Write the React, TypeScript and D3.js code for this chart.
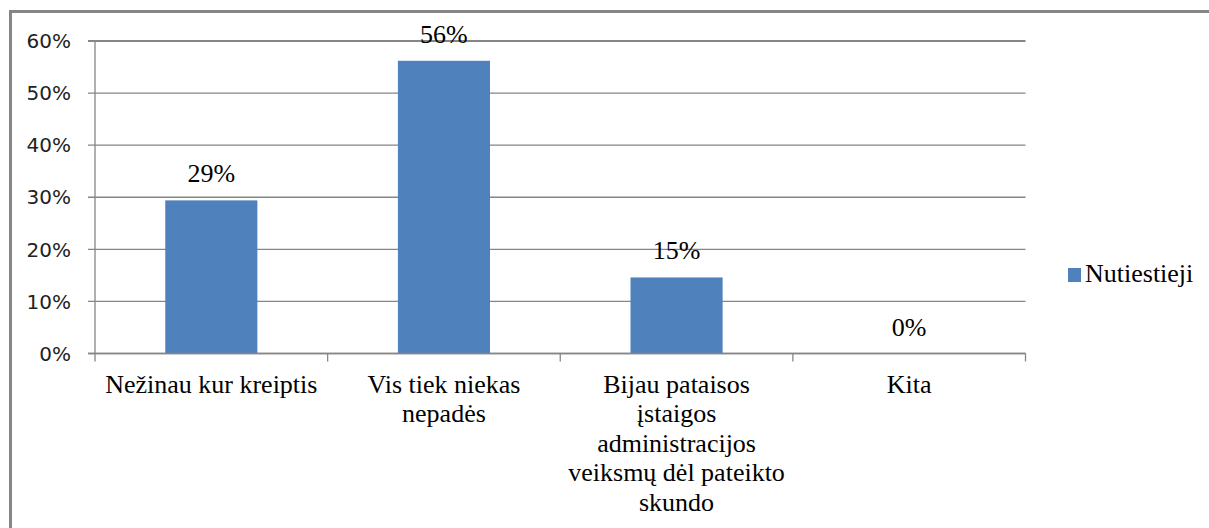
import * as d3 from "d3";

// categories (label lines) and values
const categories = ["Nežinau kur kreiptis", "Vis tiek niekas nepadės", "Bijau pataisos įstaigos administracijos veiksmų dėl pateikto skundo", "Kita"];
const categoryLines = [
  ["Nežinau kur kreiptis"],
  ["Vis tiek niekas", "nepadės"],
  ["Bijau pataisos", "įstaigos", "administracijos", "veiksmų dėl pateikto", "skundo"],
  ["Kita"],
];
const values = [29.4, 56.2, 14.6, 0];
const valueLabels = ["29%", "56%", "15%", "0%"];
const yTicks = [0, 10, 20, 30, 40, 50, 60];
const seriesName = "Nutiestieji";

const W = 1209;
const H = 528;
const grey = "#868686";
const barColor = "#4f81bd";
const serif = "Liberation Serif";
const sans = "DejaVu Sans";

const App = () => {
  const left = 95;
  const right = 1025.5;
  const top = 41;
  const bottom = 353.5;

  const x = d3.scaleBand<string>().domain(categories).range([left, right]).paddingInner(0.604).paddingOuter(0.302);
  const y = d3.scaleLinear().domain([0, 60]).range([bottom, top]);
  const step = (right - left) / categories.length;
  const boundaries = d3.range(categories.length + 1).map((i) => left + i * step);

  return (
    <svg width={W} height={H} style={{ position: "absolute", left: 0, top: 0 }}>
      <rect x={0} y={0} width={W} height={H} fill="white" />
      {/* outer frame, runs off the right and bottom edges */}
      <rect x={10.5} y={11.5} width={W + 20} height={H + 20} fill="none" stroke={grey} strokeWidth={3} />

      {/* gridlines + y ticks */}
      {yTicks.map((t) => (
        <g key={t}>
          <line x1={88} x2={right} y1={y(t)} y2={y(t)} stroke={grey} strokeWidth={t === 60 ? 2 : 1.3} />
          <text x={71} y={y(t)} dy="0.36em" textAnchor="end" style={{ fontFamily: sans, fontSize: 20 }} fill="#222">
            {t}%
          </text>
        </g>
      ))}

      {/* y axis */}
      <line x1={left} x2={left} y1={top} y2={bottom} stroke={grey} strokeWidth={1.3} />

      {/* bars */}
      {categories.map((c, i) => (
        <g key={c}>
          {values[i] > 0 && (
            <rect x={x(c)} y={y(values[i])} width={x.bandwidth()} height={bottom - y(values[i])} fill={barColor} />
          )}
          <text x={x(c)! + x.bandwidth() / 2} y={y(values[i]) - 18} textAnchor="middle" style={{ fontFamily: serif, fontSize: 26 }} fill="#000">
            {valueLabels[i]}
          </text>
        </g>
      ))}

      {/* x axis */}
      <line x1={88} x2={right} y1={bottom} y2={bottom} stroke={grey} strokeWidth={1.5} />
      {boundaries.map((bx, i) => (
        <line key={i} x1={bx} x2={bx} y1={bottom} y2={bottom + 8} stroke={grey} strokeWidth={1.3} />
      ))}

      {/* category labels */}
      {categories.map((c, i) => (
        <text key={c} textAnchor="middle" style={{ fontFamily: serif, fontSize: 26 }} fill="#000">
          {categoryLines[i].map((line, j) => (
            <tspan key={j} x={x(c)! + x.bandwidth() / 2} y={392.5 + j * 29.6}>
              {line}
            </tspan>
          ))}
        </text>
      ))}

      {/* legend */}
      <rect x={1068} y={268} width={13} height={14} fill={barColor} />
      <text x={1085} y={281.5} style={{ fontFamily: serif, fontSize: 26 }} fill="#000">
        {seriesName}
      </text>
    </svg>
  );
};

export default App;
